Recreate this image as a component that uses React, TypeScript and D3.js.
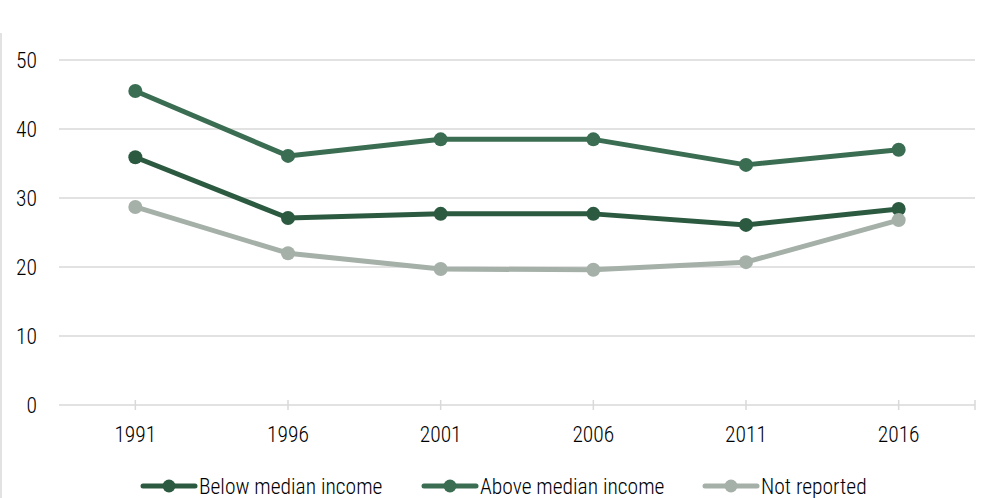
import { useMemo } from "react";
import * as d3 from "d3";

const years = ["1991", "1996", "2001", "2006", "2011", "2016"];
const belowMedian = [35.9, 27.1, 27.7, 27.7, 26.1, 28.4];
const aboveMedian = [45.5, 36.1, 38.5, 38.5, 34.8, 37.0];
const notReported = [28.7, 22.0, 19.7, 19.6, 20.7, 26.8];
const yTicks = [0, 10, 20, 30, 40, 50];

const seriesList = [
  { name: "Below median income", values: belowMedian, color: "#2c5a40" },
  { name: "Above median income", values: aboveMedian, color: "#3a6d52" },
  { name: "Not reported", values: notReported, color: "#a5b0a9" },
];

const W = 989;
const H = 498;
const FONT = "'Roboto Condensed', 'Liberation Sans Narrow', 'Arial Narrow', Roboto, sans-serif";

export default function App() {
  const x = useMemo(
    () => d3.scaleBand<string>().domain(years).range([59, 975]),
    []
  );
  const y = useMemo(() => d3.scaleLinear().domain([0, 50]).range([405, 60]), []);
  const cx = (yr: string) => (x(yr) ?? 0) + x.bandwidth() / 2;

  const line = d3
    .line<number>()
    .x((_, i) => cx(years[i]))
    .y((d) => y(d));

  const legendX = [143, 424, 705];

  return (
    <svg
      width={W}
      height={H}
      style={{ position: "absolute", left: 0, top: 0, fontFamily: FONT, fontWeight: 300 }}
    >
      <rect width={W} height={H} fill="#fff" />
      <line x1={1} x2={1} y1={33} y2={H} stroke="#d9d9d9" strokeWidth={1.5} />
      {yTicks.map((t) => (
        <g key={t}>
          <line
            x1={59}
            x2={975}
            y1={y(t)}
            y2={y(t)}
            stroke="#d9d9d9"
            strokeWidth={1.5}
          />
          <text
            x={37}
            y={y(t)}
            dy="0.35em"
            textAnchor="end"
            fontSize={21.5}
            fill="#000"
          >
            {t}
          </text>
        </g>
      ))}
      {years.map((yr) => (
        <g key={yr}>
          <line x1={cx(yr)} x2={cx(yr)} y1={400} y2={410} stroke="#d9d9d9" strokeWidth={1.5} />
          <text x={cx(yr)} y={442} textAnchor="middle" fontSize={21.5} fill="#000">
            {yr}
          </text>
        </g>
      ))}
      <line x1={975} x2={975} y1={400} y2={410} stroke="#d9d9d9" strokeWidth={1.5} />
      {seriesList.map((s) => (
        <g key={s.name}>
          <path
            d={line(s.values) ?? ""}
            fill="none"
            stroke={s.color}
            strokeWidth={5}
            strokeLinejoin="round"
          />
          {s.values.map((v, i) => (
            <circle key={i} cx={cx(years[i])} cy={y(v)} r={7} fill={s.color} />
          ))}
        </g>
      ))}
      {seriesList.map((s, i) => (
        <g key={s.name} transform={`translate(${legendX[i]},486)`}>
          <line x1={0} x2={52} y1={0} y2={0} stroke={s.color} strokeWidth={5} strokeLinecap="round" />
          <circle cx={26} cy={0} r={6.5} fill={s.color} />
          <text x={56} y={0} dy="0.35em" fontSize={21.5} fill="#000">
            {s.name}
          </text>
        </g>
      ))}
    </svg>
  );
}
